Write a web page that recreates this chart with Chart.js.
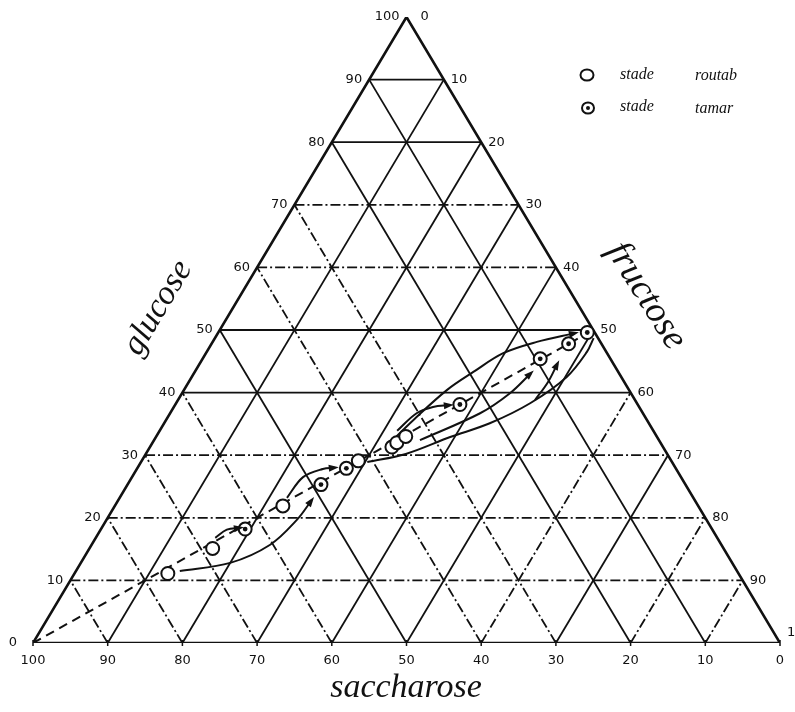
<!DOCTYPE html>
<html>
<head>
<meta charset="utf-8">
<script src="https://cdn.jsdelivr.net/npm/chart.js@4/dist/chart.umd.min.js"></script>
<style>
  html, body { margin: 0; padding: 0; background: #fff; }
  #wrap { width: 795px; height: 712px; }
</style>
</head>
<body>
<div id="wrap"><canvas id="chart"></canvas></div>
<script>
// ternary data, values in % (glucose, fructose); saccharose = 100 - both
const gridSteps = [10, 20, 30, 40, 50, 60, 70, 80, 90];
const tickValues = [0, 10, 20, 30, 40, 50, 60, 70, 80, 90, 100];

const routabGlucose = [11.1, 15.1, 21.9, 29.1, 31.3, 32.0, 33.0];
const routabFructose = [12.5, 16.5, 22.5, 29.0, 32.4, 32.7, 33.4];
const tamarGlucose = [18.2, 25.3, 27.9, 38.1, 45.4, 47.8, 49.6];
const tamarFructose = [19.3, 25.9, 28.0, 38.1, 45.2, 47.8, 49.4];

// dashed trend line glucose = fructose
const trendGlucose = [0, 50];
const trendFructose = [0, 50];

// hand-drawn arrows, [glucose, fructose] waypoints
const arrow1 = [[11.5, 13.9], [12.8, 20.0], [15.7, 23.9], [19.7, 25.5], [22.8, 25.9]];
const arrow2 = [[16.8, 16.0], [18.1, 16.9], [18.4, 18.5]];
const arrow3 = [[23.2, 22.4], [26.5, 22.9], [27.8, 24.9], [28.0, 26.4]];
const arrow4 = [[33.9, 31.8], [36.7, 33.0], [37.7, 34.7], [38.0, 36.8]];
const arrow5 = [[32.0, 31.8], [35.6, 33.1], [40.4, 35.2], [43.3, 37.3], [46.3, 39.8], [48.1, 43.4], [49.5, 47.8]];
const arrow6 = [[32.4, 35.6], [36.7, 41.5], [39.9, 43.9], [43.1, 45.1]];
const arrow7 = [[38.8, 47.8], [41.7, 48.1], [44.6, 47.9]];
const loopLower = [[28.9, 30.3], [30.2, 34.8], [32.9, 39.4], [35.1, 43.6], [38.3, 47.4], [42.5, 50.2], [46.5, 50.9], [48.7, 50.7]];

// line styles of the grid (true = solid, false = dash-dot)
const glucoseSolid = [false, false, false, true, true, false, false, true, true];
const fructoseSolid = [true, true, true, true, true, false, true, false, false];
const saccharoseSolid = [true, true, false, false, true, false, false, false, false];

const ink = '#111';
const dashDot = [10, 3, 2, 3];

function tern(g, f) {
  return { x: f + g / 2, y: g };
}

// higher "order" is drawn first (underneath)
function lineDs(points, opts) {
  return Object.assign({
    data: points,
    showLine: true,
    borderColor: ink,
    borderWidth: 1.8,
    pointRadius: 0,
    fill: false,
    tension: 0,
    order: 5
  }, opts);
}

const datasets = [];

gridSteps.forEach((k, i) => {
  datasets.push(lineDs([tern(k, 0), tern(k, 100 - k)], { borderDash: glucoseSolid[i] ? [] : dashDot }));
  datasets.push(lineDs([tern(0, k), tern(100 - k, k)], { borderDash: fructoseSolid[i] ? [] : dashDot }));
  datasets.push(lineDs([tern(0, 100 - k), tern(100 - k, 0)], { borderDash: saccharoseSolid[i] ? [] : dashDot }));
});

datasets.push(lineDs([tern(0, 0), tern(0, 100), tern(100, 0), tern(0, 0)], { borderWidth: 2.6, order: 4 }));

datasets.push(lineDs(trendGlucose.map((g, i) => tern(g, trendFructose[i])), { borderDash: [9, 6], borderWidth: 2, order: 3 }));

[arrow1, arrow2, arrow3, arrow4, arrow5, arrow6, arrow7].forEach(a => {
  datasets.push(lineDs(a.map(p => tern(p[0], p[1])), { borderWidth: 2, tension: 0.35, arrow: true, order: 2 }));
});
datasets.push(lineDs(loopLower.map(p => tern(p[0], p[1])), { borderWidth: 2, tension: 0.35, order: 2 }));

datasets.push({
  label: 'stade routab',
  data: routabGlucose.map((g, i) => tern(g, routabFructose[i])),
  pointRadius: 6.5,
  pointBackgroundColor: '#fff',
  pointBorderColor: ink,
  pointBorderWidth: 2,
  order: 1
});
datasets.push({
  label: 'stade tamar',
  data: tamarGlucose.map((g, i) => tern(g, tamarFructose[i])),
  pointRadius: 6.5,
  pointBackgroundColor: '#fff',
  pointBorderColor: ink,
  pointBorderWidth: 2,
  order: 1
});
datasets.push({
  label: 'tamar dot',
  data: tamarGlucose.map((g, i) => tern(g, tamarFructose[i])),
  pointRadius: 2.4,
  pointBackgroundColor: ink,
  pointBorderColor: ink,
  pointBorderWidth: 0,
  order: 0
});

const ternaryDecor = {
  id: 'ternaryDecor',
  afterDatasetsDraw(chart) {
    const ctx = chart.ctx;
    const xs = chart.scales.x, ys = chart.scales.y;
    const px = (g, f) => {
      const p = tern(g, f);
      return [xs.getPixelForValue(p.x), ys.getPixelForValue(p.y)];
    };

    // arrowheads
    chart.data.datasets.forEach((ds, i) => {
      if (!ds.arrow) return;
      const pts = chart.getDatasetMeta(i).data;
      const a = pts[pts.length - 2], b = pts[pts.length - 1];
      const ang = Math.atan2(b.y - a.y, b.x - a.x);
      ctx.save();
      ctx.translate(b.x, b.y);
      ctx.rotate(ang);
      ctx.fillStyle = ink;
      ctx.beginPath();
      ctx.moveTo(4, 0);
      ctx.lineTo(-6, -3.5);
      ctx.lineTo(-6, 3.5);
      ctx.closePath();
      ctx.fill();
      ctx.restore();
    });

    ctx.save();
    ctx.fillStyle = ink;
    ctx.font = '13px "DejaVu Sans"';
    ctx.textBaseline = 'middle';

    // glucose ticks on the left edge
    ctx.textAlign = 'right';
    tickValues.forEach(v => {
      const [x, y] = px(v, 0);
      ctx.fillText(String(v), x - (v === 0 ? 16 : 7), y);
    });
    // fructose ticks on the right edge
    ctx.textAlign = 'left';
    tickValues.forEach(v => {
      const [x, y] = px(100 - v, v);
      ctx.fillText(String(v), x + (v === 0 ? 14 : 7), y + (v === 100 ? -10 : 0));
    });
    // saccharose ticks on the bottom edge
    ctx.textAlign = 'center';
    tickValues.forEach(v => {
      const [x, y] = px(0, 100 - v);
      ctx.fillText(String(v), x, y + 18);
      ctx.fillRect(x - 0.75, y - 3, 1.5, 6);
    });

    // axis titles
    ctx.font = 'italic 34px "Liberation Serif"';
    ctx.textAlign = 'center';
    ctx.save();
    ctx.translate(158, 308);
    ctx.rotate(-59 * Math.PI / 180);
    ctx.fillText('glucose', 0, 0);
    ctx.restore();
    ctx.save();
    ctx.translate(646, 296);
    ctx.rotate(58 * Math.PI / 180);
    ctx.font = 'italic 37px "Liberation Serif"';
    ctx.fillText('fructose', 0, 0);
    ctx.restore();
    ctx.fillText('saccharose', 406, 688);

    // legend
    ctx.lineWidth = 2;
    ctx.strokeStyle = ink;
    ctx.beginPath(); ctx.ellipse(587, 75, 6.5, 5.5, 0, 0, Math.PI * 2); ctx.stroke();
    ctx.beginPath(); ctx.ellipse(588, 108, 6, 5.5, 0, 0, Math.PI * 2); ctx.stroke();
    ctx.beginPath(); ctx.arc(588, 108, 2, 0, Math.PI * 2); ctx.fill();
    ctx.font = 'italic 16px "Liberation Serif"';
    ctx.textAlign = 'left';
    ctx.fillText('stade', 620, 75);
    ctx.fillText('routab', 695, 76);
    ctx.fillText('stade', 620, 107);
    ctx.fillText('tamar', 695, 109);
    ctx.restore();
  }
};

new Chart(document.getElementById('chart').getContext('2d'), {
  type: 'scatter',
  data: { datasets },
  options: {
    responsive: true,
    maintainAspectRatio: false,
    animation: false,
    layout: { padding: { left: 33, right: 15, top: 17, bottom: 69 } },
    scales: {
      x: { type: 'linear', min: 0, max: 100, display: false },
      y: { type: 'linear', min: 0, max: 100, display: false }
    },
    plugins: {
      legend: { display: false },
      tooltip: { enabled: false }
    }
  },
  plugins: [ternaryDecor]
});
</script>
</body>
</html>
